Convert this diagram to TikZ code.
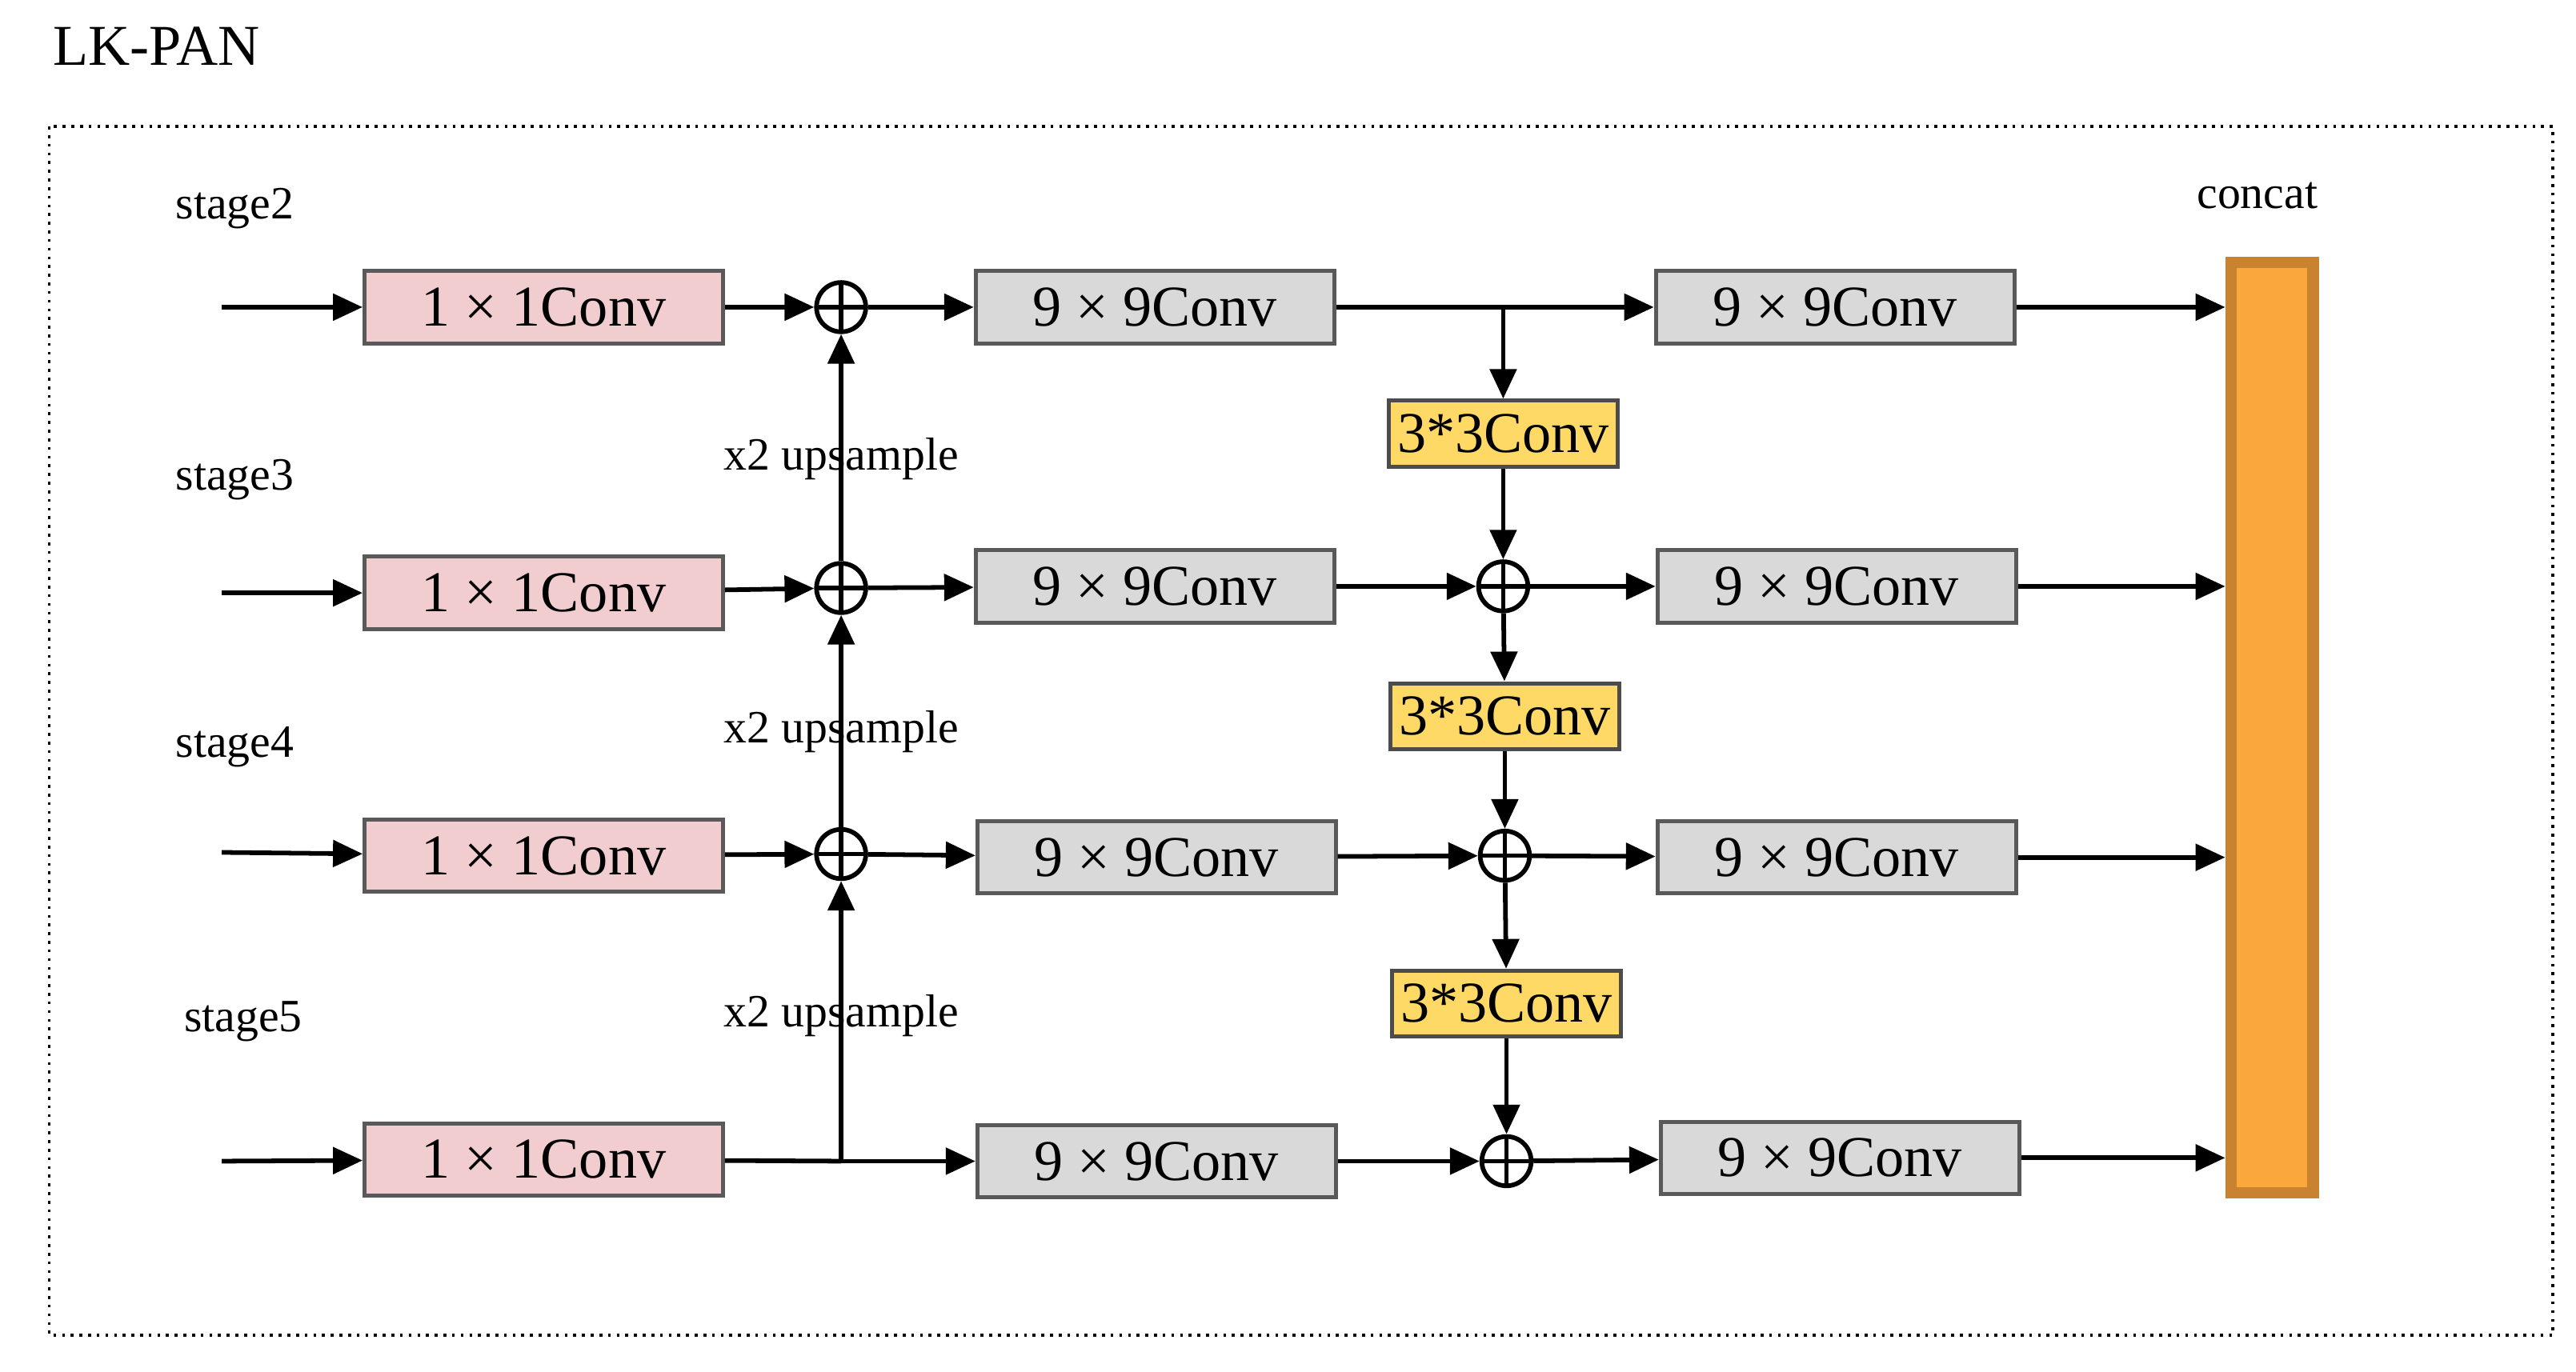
\documentclass[tikz,border=0pt]{standalone}
\usepackage{fontspec}
\setmainfont{Liberation Serif}
\usetikzlibrary{arrows.meta}
\definecolor{pinkbox}{HTML}{F2CDCF}
\definecolor{graybox}{HTML}{D9D9D9}
\definecolor{yelbox}{HTML}{FFD966}
\definecolor{orbar}{HTML}{FAA83C}
\definecolor{orline}{HTML}{C88230}
\begin{document}
\begin{tikzpicture}[x=0.01cm,y=-0.01cm,
  box/.style={draw=black!65,line width=0.7pt,minimum width=2.18cm,minimum height=0.44cm,inner sep=0pt,font=\fontsize{10}{10}\selectfont},
  c1/.style={box,fill=pinkbox},
  c9/.style={box,fill=graybox},
  c3/.style={box,fill=yelbox,draw=black!70,minimum width=1.39cm,minimum height=0.4cm},
  sum/.style={circle,draw,line width=0.8pt,minimum size=0.3cm,inner sep=0pt,
    path picture={\draw[line width=0.8pt] (path picture bounding box.north) -- (path picture bounding box.south)
      (path picture bounding box.west) -- (path picture bounding box.east);}},
  lbl/.style={font=\fontsize{8}{8}\selectfont},
  ar/.style={-{Triangle[length=1.8mm,width=1.6mm]},line width=0.8pt}]
\useasboundingbox (0,0) rectangle (1568,835);
\node[anchor=west,font=\fontsize{10}{10}\selectfont] (title) at (20,28) {LK-PAN};
\draw[densely dotted,line width=0.5pt] (30,77) rectangle (1554,813);

\node[lbl] (s2) at (143,127) {stage2};
\node[lbl] (s3) at (143,292) {stage3};
\node[lbl] (s4) at (143,455) {stage4};
\node[lbl] (s5) at (148,622) {stage5};
\coordinate (i2) at (135,187);
\coordinate (i3) at (135,361);
\coordinate (i4) at (135,519);
\coordinate (i5) at (135,707);

\node[c1] (p2) at (331,187) {1 × 1Conv};
\node[c1] (p3) at (331,361) {1 × 1Conv};
\node[c1] (p4) at (331,521) {1 × 1Conv};
\node[c1] (p5) at (331,706) {1 × 1Conv};

\node[sum] (a2) at (512,187) {};
\node[sum] (a3) at (512,358) {};
\node[sum] (a4) at (512,520) {};
\coordinate (j5) at (512,707);

\node[c9] (g2) at (703,187) {9 × 9Conv};
\node[c9] (g3) at (703,357) {9 × 9Conv};
\node[c9] (g4) at (704,522) {9 × 9Conv};
\node[c9] (g5) at (704,707) {9 × 9Conv};

\coordinate (j2) at (915,187);
\node[c3] (y1) at (915,264) {3*3Conv};
\node[c3] (y2) at (916,436) {3*3Conv};
\node[c3] (y3) at (917,611) {3*3Conv};
\node[sum] (b3) at (915,357) {};
\node[sum] (b4) at (916,521) {};
\node[sum] (b5) at (917,707) {};

\node[c9] (h2) at (1117,187) {9 × 9Conv};
\node[c9] (h3) at (1118,357) {9 × 9Conv};
\node[c9] (h4) at (1118,522) {9 × 9Conv};
\node[c9] (h5) at (1120,705) {9 × 9Conv};

\node[draw=orline,fill=orbar,line width=2pt,minimum width=0.5cm,minimum height=5.66cm,inner sep=0pt] (cat) at (1383,443) {};
\node[lbl] (catl) at (1374,119) {concat};

% inputs
\draw[ar] (i2) -- (p2);
\draw[ar] (i3) -- (p3);
\draw[ar] (i4) -- (p4);
\draw[ar] (i5) -- (p5);
\draw[ar] (p2) -- (a2);
\draw[ar] (p3) -- (a3);
\draw[ar] (p4) -- (a4);
\draw[line width=0.8pt] (p5) -- (j5);
\draw[ar] (j5) -- (g5);
\draw[ar] (a2) -- (g2);
\draw[ar] (a3) -- (g3);
\draw[ar] (a4) -- (g4);

% upsample
\draw[ar] (a3) -- node[lbl,pos=0.45,fill=none] (u1) {x2 upsample} (a2);
\draw[ar] (a4) -- node[lbl,pos=0.45] (u2) {x2 upsample} (a3);
\draw[ar] (j5) -- node[lbl,pos=0.52] (u3) {x2 upsample} (a4);

% PAN path
\draw[line width=0.8pt] (g2) -- (j2);
\draw[ar] (j2) -- (h2);
\draw[ar] (j2) -- (y1);
\draw[ar] (y1) -- (b3);
\draw[ar] (b3) -- (y2);
\draw[ar] (y2) -- (b4);
\draw[ar] (b4) -- (y3);
\draw[ar] (y3) -- (b5);
\draw[ar] (g3) -- (b3);
\draw[ar] (g4) -- (b4);
\draw[ar] (g5) -- (b5);
\draw[ar] (b3) -- (h3);
\draw[ar] (b4) -- (h4);
\draw[ar] (b5) -- (h5);

% concat
\draw[ar] (h2) -- (h2 -| cat.west);
\draw[ar] (h3) -- (h3 -| cat.west);
\draw[ar] (h4) -- (h4 -| cat.west);
\draw[ar] (h5) -- (h5 -| cat.west);
\end{tikzpicture}
\end{document}
